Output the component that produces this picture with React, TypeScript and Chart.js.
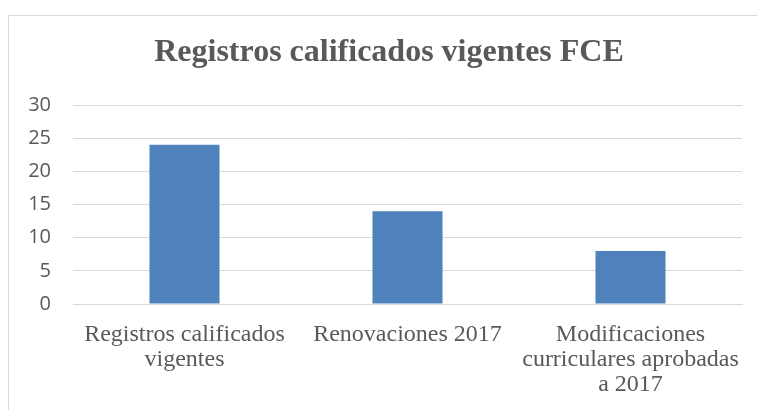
import React, { useEffect, useRef } from "react";
import { Chart, registerables } from "chart.js";

Chart.register(...registerables);

const titleText = "Registros calificados vigentes FCE";
const categories: string[][] = [
  ["Registros calificados", "vigentes"],
  ["Renovaciones 2017"],
  ["Modificaciones", "curriculares aprobadas", "a 2017"],
];
const values = [24, 14, 8];
const yMin = 0;
const yMax = 30;
const yStep = 5;

// Let the y tick labels extend left of the (narrow) y scale box so they are not clipped.
const widenYLabels = {
  id: "widenYLabels",
  afterLayout(chart: any) {
    const y = chart.scales.y;
    if (y) y.left = 0;
  },
};

export default function App() {
  const ref = useRef<HTMLCanvasElement>(null);
  useEffect(() => {
    if (!ref.current) return;
    const chart = new Chart(ref.current, {
      type: "bar",
      data: {
        labels: categories,
        datasets: [
          {
            data: values,
            backgroundColor: "#4F81BD",
            borderWidth: 0,
            categoryPercentage: 1,
            barPercentage: 0.314,
          },
        ],
      },
      plugins: [widenYLabels],
      options: {
        animation: false,
        responsive: false,
        maintainAspectRatio: false,
        layout: { padding: { left: 27, right: 27, top: 0, bottom: 0 } },
        plugins: {
          legend: { display: false },
          tooltip: { enabled: false },
          title: {
            display: true,
            text: titleText,
            color: "#595959",
            font: { family: "Liberation Serif", size: 32, weight: "bold", lineHeight: 1.2 },
            padding: { top: 18, bottom: 32.6 },
          },
        },
        scales: {
          x: {
            grid: { display: false, drawTicks: false },
            border: { display: true, color: "#d9d9d9", width: 1 },
            ticks: {
              color: "#595959",
              font: { family: "Liberation Serif", size: 24, lineHeight: 1.04 },
              maxRotation: 0,
              minRotation: 0,
              autoSkip: false,
              padding: 18,
            },
            afterFit: (s: any) => {
              s.height = 106;
            },
          },
          y: {
            min: yMin,
            max: yMax,
            grid: { color: "#d9d9d9", lineWidth: 1, drawTicks: false },
            border: { display: false },
            ticks: {
              stepSize: yStep,
              color: "#595959",
              font: { family: "Open Sans", size: 20 },
              padding: 22,
            },
            afterFit: (s: any) => {
              s.width = 37;
            },
          },
        },
      },
    });
    return () => chart.destroy();
  }, []);
  return (
    <div
      style={{
        position: "absolute",
        left: 8,
        top: 15,
        width: 749,
        height: 395,
        boxSizing: "border-box",
        borderTop: "1px solid #d9d9d9",
        borderLeft: "1px solid #d9d9d9",
        overflow: "hidden",
        background: "#fff",
      }}
    >
      <canvas ref={ref} width={760} height={394} style={{ display: "block" }} />
    </div>
  );
}
